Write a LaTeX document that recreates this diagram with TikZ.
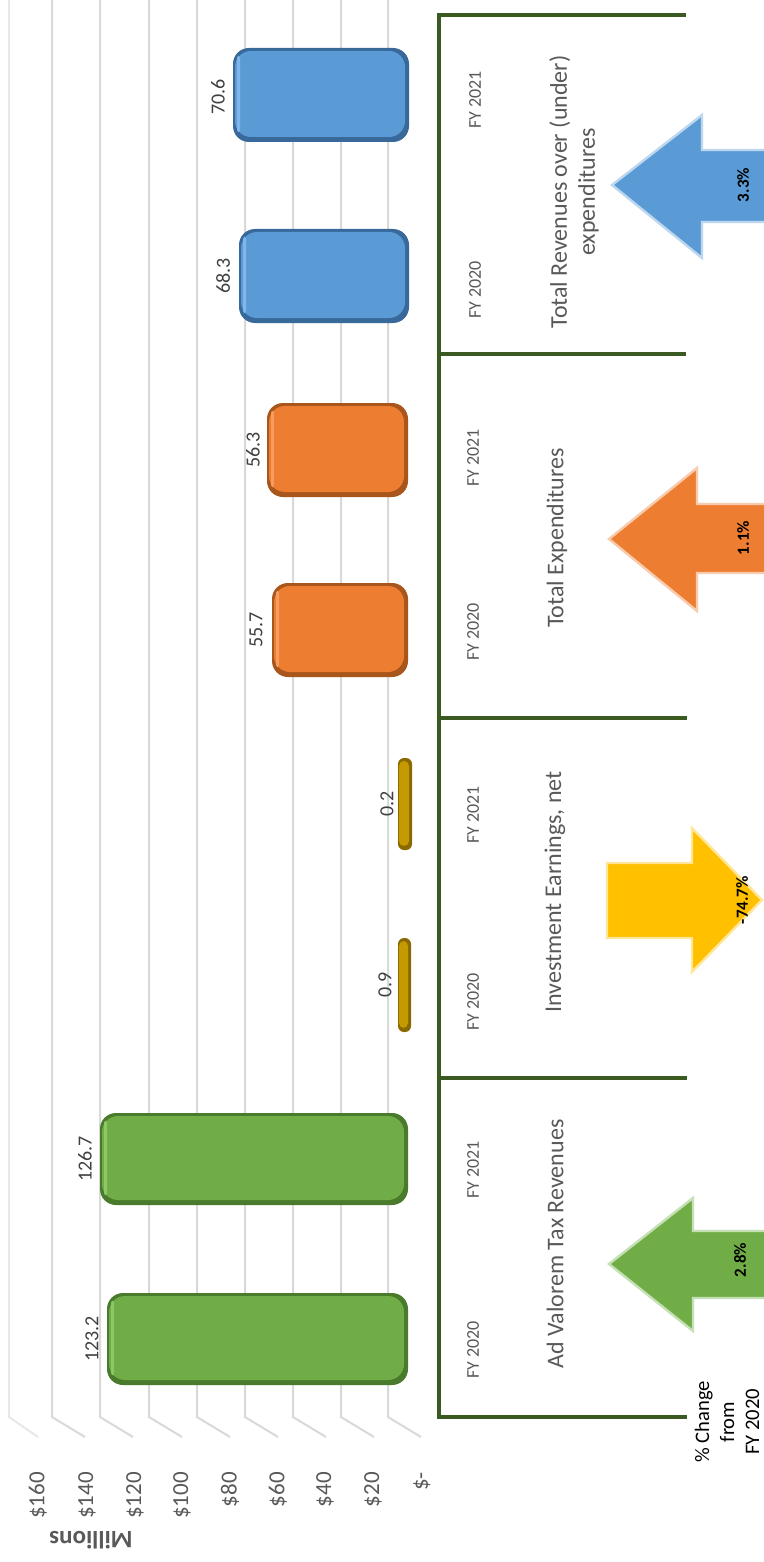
\documentclass[tikz,border=0pt]{standalone}
\usepackage{fontspec}
\setmainfont{Carlito}
\definecolor{gridc}{HTML}{D9D9D9}
\definecolor{framec}{HTML}{3A5A22}
\definecolor{txtc}{HTML}{595959}
\definecolor{valc}{HTML}{404040}
\definecolor{gmain}{HTML}{70AD47}
\definecolor{gdark}{HTML}{4A7A2C}
\definecolor{ghi}{HTML}{8CC866}
\definecolor{omain}{HTML}{ED7D31}
\definecolor{odark}{HTML}{A9561C}
\definecolor{ohi}{HTML}{F59C5E}
\definecolor{bmain}{HTML}{5B9BD5}
\definecolor{bdark}{HTML}{38699A}
\definecolor{bhi}{HTML}{80B6EA}
\definecolor{ymain}{HTML}{C49A00}
\definecolor{ydark}{HTML}{8A6A00}
\definecolor{yhi}{HTML}{D8AE10}
\definecolor{arry}{HTML}{FFC000}
\definecolor{arryl}{HTML}{FFE699}
\definecolor{arrg}{HTML}{70AD47}
\definecolor{arrgl}{HTML}{C5E0B4}
\definecolor{arro}{HTML}{ED7D31}
\definecolor{arrol}{HTML}{F8CBAD}
\definecolor{arrb}{HTML}{5B9BD5}
\definecolor{arrbl}{HTML}{BDD7EE}
% #1 colour prefix, #2 radius, #3 x1, #4 y1, #5 x2, #6 y2
\newcommand\mybar[6]{%
  \fill[#1dark, rounded corners=#2] (#3,#4) rectangle (#5,#6);
  \fill[#1main, rounded corners=#2] ({#3+2},{#4+3}) rectangle ({#5-4},{#6-5});
  \fill[#1hi, rounded corners=1pt] ({#3+4},{#4+8}) rectangle ({#3+7},{#6-10});
}
\tikzset{
  gridl/.style={draw=gridc, line width=1pt},
  framel/.style={draw=framec, line width=2pt},
  fylab/.style={rotate=90, font=\fontsize{9}{10}\selectfont, text=txtc},
  catlab/.style={rotate=90, font=\fontsize{12}{14}\selectfont, text=txtc, align=center},
  vallab/.style={rotate=90, font=\fontsize{10}{12}\selectfont, text=valc},
  pctlab/.style={rotate=90, font=\bfseries\fontsize{8.5}{10}\selectfont, text=black},
  axlab/.style={rotate=90, anchor=east, font=\fontsize{11.5}{13}\selectfont, text=txtc},
  arrowshape/.style={line width=1.2pt, line join=miter},
}
\begin{document}
\begin{tikzpicture}[x=0.5pt, y=-0.5pt]
\useasboundingbox (0,0) rectangle (764,1562);
\clip (0,0) rectangle (764,1562);
\fill[white] (0,0) rectangle (764,1562);

% gridlines
\foreach \gx in {52,100,149,197,245,293,341,388}{
  \draw[gridl] (\gx,0) -- (\gx,1417) -- ({\gx+33},1437);
}
\draw[gridl, draw=gridc!60] (9,0) -- (9,1417) -- (38,1437);

% axis labels
\node[axlab] (a160) at (38,1465) {\$160};
\node[axlab] (a140) at (87,1465) {\$140};
\node[axlab] (a120) at (135,1465) {\$120};
\node[axlab] (a100) at (182,1465) {\$100};
\node[axlab] (a80) at (230,1465) {\$80};
\node[axlab] (a60) at (278,1465) {\$60};
\node[axlab] (a40) at (325,1465) {\$40};
\node[axlab] (a20) at (373,1465) {\$20};
\node[axlab] (a0) at (422,1465) {\$-};
\node[rotate=180, font=\bfseries\fontsize{12.5}{14}\selectfont, text=txtc] (mill) at (91,1540) {Millions};

% bars
\mybar{b}{8pt}{233}{48}{409}{142}
\mybar{b}{8pt}{239}{229}{409}{323}
\mybar{o}{8pt}{267}{403}{408}{497}
\mybar{o}{8pt}{272}{583}{408}{677}
\fill[ydark, rounded corners=3pt] (398,758) rectangle (412,850);
\fill[ymain, rounded corners=2.5pt] (399,761) rectangle (409,846);
\fill[ydark, rounded corners=3pt] (398,938) rectangle (411,1032);
\fill[ymain, rounded corners=2.5pt] (399,941) rectangle (408,1028);
\mybar{g}{8pt}{100}{1113}{408}{1205}
\mybar{g}{8pt}{107}{1293}{408}{1385}

% value labels
\node[vallab] (v706) at (218,97) {70.6};
\node[vallab] (v683) at (223,276) {68.3};
\node[vallab] (v563) at (253,450) {56.3};
\node[vallab] (v557) at (256,630) {55.7};
\node[vallab] (v02) at (387,804) {0.2};
\node[vallab] (v09) at (385,985) {0.9};
\node[vallab] (v1267) at (85,1159) {126.7};
\node[vallab] (v1232) at (92,1339) {123.2};

% frame
\draw[framel] (686,15) -- (439,15) -- (439,1417) -- (687,1417);
\draw[framel] (439,354) -- (686,354);
\draw[framel] (439,718) -- (687,718);
\draw[framel] (439,1078) -- (687,1078);

% FY labels
\node[fylab] (b21) at (475,100) {FY 2021};
\node[fylab] (b20) at (475,290) {FY 2020};
\node[fylab] (o21) at (473,458) {FY 2021};
\node[fylab] (o20) at (473,632) {FY 2020};
\node[fylab] (y21) at (473,815) {FY 2021};
\node[fylab] (y20) at (473,1002) {FY 2020};
\node[fylab] (g21) at (473,1170) {FY 2021};
\node[fylab] (g20) at (473,1350) {FY 2020};

% category titles
\node[catlab] (tb) at (574,192) {Total Revenues over (under)\\expenditures};
\node[catlab] (to) at (557,538) {Total Expenditures};
\node[catlab] (ty) at (555,892) {Investment Earnings, net};
\node[catlab] (tg) at (555,1244) {Ad Valorem Tax Revenues};

% arrows
\filldraw[arrowshape, fill=arrb, draw=arrbl] (612,185) -- (702,115) -- (702,150) -- (770,150) -- (770,222) -- (702,222) -- (702,258) -- cycle;
\filldraw[arrowshape, fill=arro, draw=arrol] (609,539) -- (697,468) -- (697,504) -- (770,504) -- (770,573) -- (697,573) -- (697,611) -- cycle;
\filldraw[arrowshape, fill=arrg, draw=arrgl] (609,1264) -- (693,1198) -- (693,1231) -- (770,1231) -- (770,1298) -- (693,1298) -- (693,1331) -- cycle;
\filldraw[arrowshape, fill=arry, draw=arryl] (762,900) -- (692,828) -- (692,863) -- (607,863) -- (607,938) -- (692,938) -- (692,972) -- cycle;

% percent labels
\node[pctlab] (p33) at (743,185) {3.3\%};
\node[pctlab] (p11) at (743,538) {1.1\%};
\node[pctlab] (p747) at (742,900) {-74.7\%};
\node[pctlab] (p28) at (740,1260) {2.8\%};

\node[rotate=90, align=center, font=\fontsize{10.3}{12.5}\selectfont, text=black] (chg) at (727,1422) {\% Change\\from\\FY 2020};
\end{tikzpicture}
\end{document}
